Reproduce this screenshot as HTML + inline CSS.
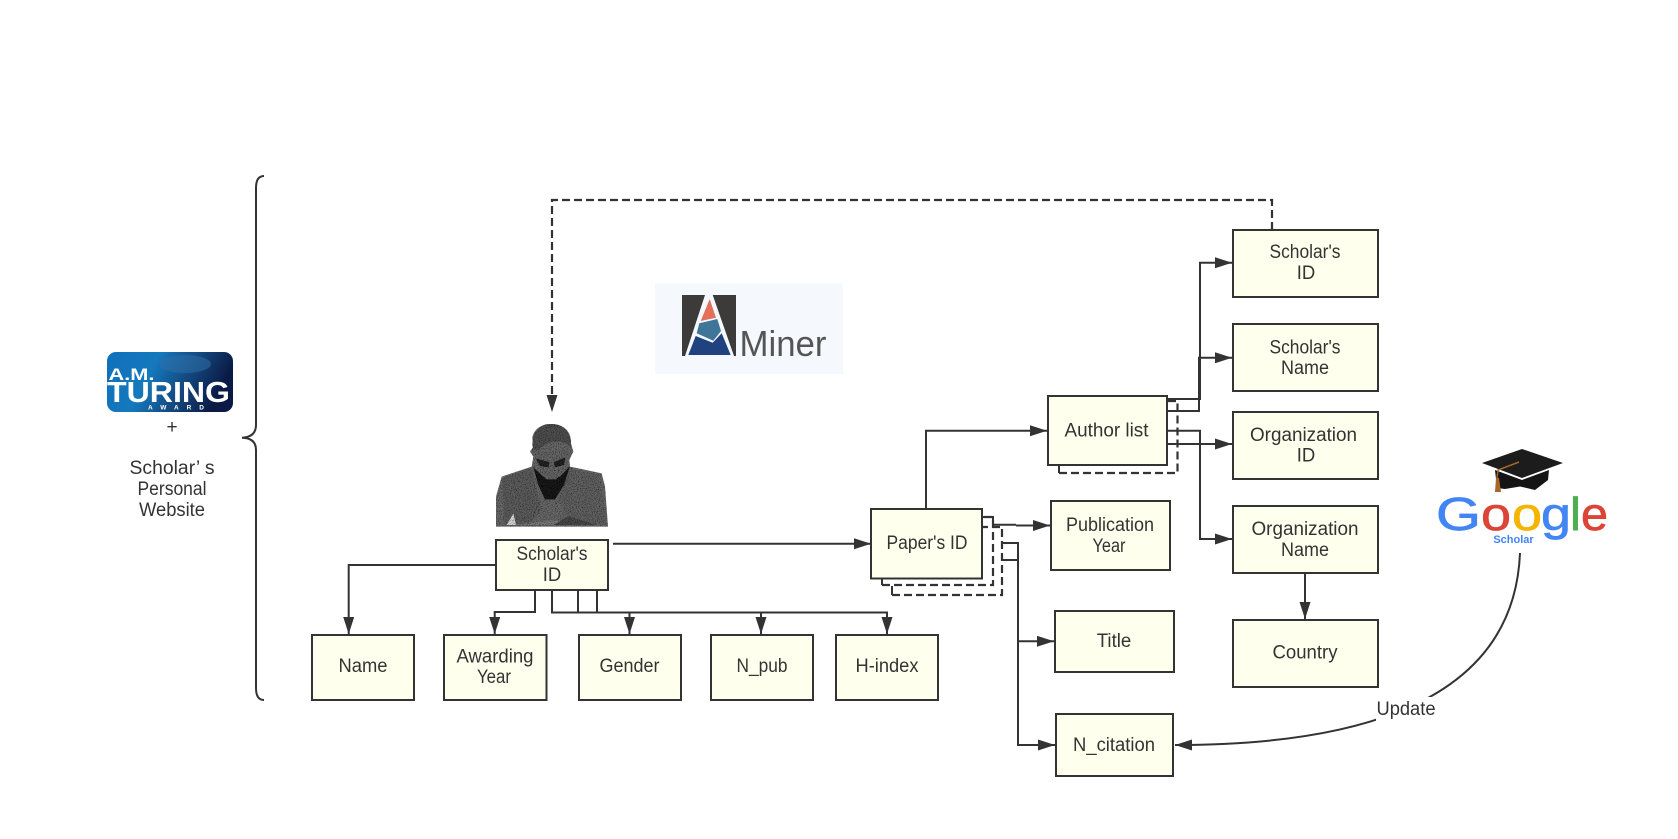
<!DOCTYPE html>
<html>
<head>
<meta charset="utf-8">
<style>
html,body{margin:0;padding:0;background:#fff;width:1678px;height:839px;overflow:hidden}
svg{display:block}
.b{fill:#ffffee;stroke:#333;stroke-width:2}
.c{fill:none;stroke:#333;stroke-width:2}
.a{fill:none;stroke:#333;stroke-width:2;marker-end:url(#ah)}
.d{fill:none;stroke:#333;stroke-width:2.2;stroke-dasharray:8 4}
text{font-family:"Liberation Sans","Noto Sans CJK SC",sans-serif;font-size:19px;fill:#333;text-anchor:middle}
.g{font-size:46px;stroke-width:.7;text-anchor:start}
</style>
</head>
<body>
<svg width="1678" height="839" viewBox="0 0 1678 839" xmlns="http://www.w3.org/2000/svg">
<defs>
<marker id="ah" markerUnits="userSpaceOnUse" markerWidth="18" markerHeight="12" refX="17" refY="5.500" orient="auto">
<path d="M0 0L17 5.500L0 11Z" fill="#333"/>
</marker>
<linearGradient id="tg" x1="0" y1="0" x2="1" y2="0.25">
<stop offset="0" stop-color="#0f70bb"/><stop offset=".4" stop-color="#1579bd"/><stop offset=".7" stop-color="#14487f"/><stop offset="1" stop-color="#0a1a45"/>
</linearGradient>
<filter id="nz" x="0" y="0" width="100%" height="100%">
<feTurbulence type="fractalNoise" baseFrequency=".35" numOctaves="2" seed="4" result="n"/>
<feColorMatrix in="n" type="matrix" values="0 0 0 0 0 0 0 0 0 0 0 0 0 0 0 0 0 0 2.4 -1" result="m"/>
<feComposite in="m" in2="SourceAlpha" operator="in" result="k"/>
<feMerge><feMergeNode in="SourceGraphic"/><feMergeNode in="k"/></feMerge>
</filter>
<filter id="sf"><feGaussianBlur stdDeviation="3"/></filter>
</defs>

<!-- brace -->
<path class="c" d="M264 176Q256 176 256 188L256 425Q256 437 242 437.700Q256 438 256 450L256 688Q256 700 264 700"/>

<!-- Turing logo -->
<rect x="107" y="352" width="126" height="60" rx="9" fill="url(#tg)"/>
<ellipse cx="185" cy="364" rx="26" ry="9" fill="#2f6fa8" opacity=".55"/>
<text x="131.500" y="380" style="font-size:16.500px;font-weight:bold;fill:#fff" textLength="46" lengthAdjust="spacingAndGlyphs">A.M.</text>
<text x="168.500" y="402" style="font-size:28.500px;font-weight:bold;fill:#fff" textLength="123" lengthAdjust="spacingAndGlyphs">TURING</text>
<text x="176" y="409.500" style="font-size:6.500px;font-weight:bold;fill:#fff" textLength="56">AWARD</text>

<text x="172" y="433">+</text>
<text x="172" y="474" textLength="85" lengthAdjust="spacingAndGlyphs">Scholar’ s</text>
<text x="172" y="495" textLength="69" lengthAdjust="spacingAndGlyphs">Personal</text>
<text x="172" y="516" textLength="66" lengthAdjust="spacingAndGlyphs">Website</text>

<!-- AMiner logo -->
<rect x="655" y="283" width="188" height="91" fill="#f5f9fe"/>
<polygon points="682,295 705,295 685,356 682,356" fill="#3d3a3a"/>
<polygon points="712.700,295 736,295 736,356 734,356" fill="#3d3a3a"/>
<polygon points="709.700,299 716,317.700 700.700,321" fill="#e2705a"/>
<polygon points="699.300,323.300 717.300,319 721,331 713.300,340.700 696.700,333.300" fill="#3f7598"/>
<polygon points="688.300,355 695.700,336 712.700,342.700 721.700,333.300 730.700,355" fill="#20437f"/>
<text x="783" y="356" style="font-size:36px;fill:#555" textLength="87" lengthAdjust="spacingAndGlyphs">Miner</text>

<!-- statue -->
<g transform="translate(480 410) scale(.33333)" filter="url(#nz)">
<path d="M48 350L48 260L65 200L155 170L160 140L150 125L160 110L157 85C160 55 190 40 215 42C250 42 275 65 273 100L280 125L268 150L270 170L365 190L375 230L384 350Z" fill="#6a6a6a"/>
<path d="M65 205L155 175L185 300L150 340L75 345Z" fill="#5f5f5f"/>
<path d="M270 175L360 195L378 345L270 330L235 270Z" fill="#646464"/>
<path d="M160 172L190 200L240 200L270 168L252 225L225 268L195 268L175 225Z" fill="#1b1b1b"/>
<path d="M162 115C175 125 250 118 268 118L266 150L250 185L228 208H200L180 190L166 150Z" fill="#686868"/>
<path d="M157 105C160 55 190 40 215 42C250 42 275 65 273 110C255 92 215 88 190 108C178 118 165 125 160 118Z" fill="#515151"/>
<path d="M168 146L208 156L206 172L180 168Z" fill="#252525"/>
<path d="M222 156L256 142L252 165L224 172Z" fill="#252525"/>
<path d="M80 345L100 310L108 345Z" fill="#ddd"/>
<path d="M100 345L220 330L330 345Z" fill="#7c7c7c"/>
<path d="M220 345L265 318L350 345Z" fill="#4c4c4c"/>
</g>

<!-- Google Scholar logo -->
<polygon points="1482,463 1522,449 1563,463 1522,478" fill="#1c1c1c"/>
<path d="M1495 470L1522 480L1549 470L1548 480L1535 490L1520 486.500L1505 489L1497 488Z" fill="#151515"/>
<path d="M1519 462L1498 470L1497 478" fill="none" stroke="#a5682a" stroke-width="1.500"/>
<polygon points="1496,478 1499,478 1501,492 1495,492" fill="#a5682a"/>
<text class="g" x="1436" y="530" style="fill:#4285f4" stroke="#4285f4" textLength="45" lengthAdjust="spacingAndGlyphs">G</text>
<text class="g" x="1481" y="530" style="fill:#db4437" stroke="#db4437" textLength="30" lengthAdjust="spacingAndGlyphs">o</text>
<text class="g" x="1512" y="530" style="fill:#f4b400" stroke="#f4b400" textLength="30" lengthAdjust="spacingAndGlyphs">o</text>
<text class="g" x="1541" y="530" style="fill:#4285f4" stroke="#4285f4" textLength="30" lengthAdjust="spacingAndGlyphs">g</text>
<text class="g" x="1571" y="530" style="fill:#4caf50;font-weight:bold" stroke="#4caf50" textLength="9" lengthAdjust="spacingAndGlyphs">l</text>
<text class="g" x="1581" y="530" style="fill:#db4437" stroke="#db4437" textLength="27" lengthAdjust="spacingAndGlyphs">e</text>
<text x="1513.500" y="543" style="font-size:11px;font-weight:bold;fill:#4285f4">Scholar</text>

<!-- stacked dashed back boxes -->
<path class="d" d="M892 595H1002V527H982"/>
<path class="d" d="M882 585H993V517H982"/>
<path class="c" d="M892 586V595M882 579V585M982 517H990"/>
<path class="d" d="M1059 473H1177.500V401H1167"/>
<path class="c" d="M1059 466V473M1167 401H1175"/>

<!-- dashed connector -->
<path class="d" d="M1272 230V200H552V396"/>
<polygon points="546.500,395 557.500,395 552,412" fill="#333"/>

<!-- connectors left -->
<path class="a" d="M613 543.700H871"/>
<path class="a" d="M496 565H348.700V634"/>
<path class="a" d="M535 590V612H494.700V634"/>
<path class="c" d="M552 590V612.500H629.500"/>
<path class="c" d="M578 590V612.500M597 590V612.500"/>
<path class="a" d="M578 612.500H629.500V634"/>
<path class="a" d="M597 612.500H761V634"/>
<path class="a" d="M597 612.500H887V634"/>

<!-- connectors paper -->
<path class="a" d="M926 509V430.700H1047"/>
<path class="c" d="M993 516V524.700H1016"/>
<path class="a" d="M1016 525.500H1050"/>
<path class="a" d="M1002 543H1018V641.300H1054"/>
<path class="a" d="M1002 560H1018V745H1055"/>

<!-- connectors author -->
<path class="a" d="M1167 399H1200V262.700H1232"/>
<path class="a" d="M1167 411H1199V357.700H1232"/>
<path class="a" d="M1167 444H1232"/>
<path class="a" d="M1167 430.700H1200V539H1232"/>
<path class="a" d="M1305 573V619"/>

<!-- curve -->
<path class="a" d="M1520 553Q1512 745 1175 745"/>
<rect x="1376" y="697" width="61" height="24" fill="#fff"/>
<text x="1406" y="715" textLength="59" lengthAdjust="spacingAndGlyphs">Update</text>

<!-- boxes -->
<rect class="b" x="496" y="540" width="112" height="50"/>
<rect class="b" x="312" y="635" width="102" height="65"/>
<rect class="b" x="444" y="635" width="102.500" height="65"/>
<rect class="b" x="579" y="635" width="102" height="65"/>
<rect class="b" x="711" y="635" width="102" height="65"/>
<rect class="b" x="836" y="635" width="102" height="65"/>
<rect class="b" x="871" y="509" width="111" height="69.500"/>
<rect class="b" x="1048" y="396" width="119" height="69"/>
<rect class="b" x="1051" y="501" width="119" height="69"/>
<rect class="b" x="1055" y="611" width="119" height="61"/>
<rect class="b" x="1056" y="714" width="117" height="62"/>
<rect class="b" x="1233" y="230" width="145" height="67"/>
<rect class="b" x="1233" y="324" width="145" height="67"/>
<rect class="b" x="1233" y="412" width="145" height="67"/>
<rect class="b" x="1233" y="506" width="145" height="67"/>
<rect class="b" x="1233" y="620" width="145" height="67"/>

<!-- labels -->
<text x="552" y="560" textLength="71" lengthAdjust="spacingAndGlyphs">Scholar's</text>
<text x="552" y="581" textLength="18.500" lengthAdjust="spacingAndGlyphs">ID</text>
<text x="363" y="672" textLength="49" lengthAdjust="spacingAndGlyphs">Name</text>
<text x="495" y="662.500" textLength="77" lengthAdjust="spacingAndGlyphs">Awarding</text>
<text x="494" y="683" textLength="34" lengthAdjust="spacingAndGlyphs">Year</text>
<text x="629.500" y="672" textLength="60" lengthAdjust="spacingAndGlyphs">Gender</text>
<text x="762" y="672" textLength="51" lengthAdjust="spacingAndGlyphs">N_pub</text>
<text x="887" y="672" textLength="63" lengthAdjust="spacingAndGlyphs">H-index</text>
<text x="927" y="549" textLength="81" lengthAdjust="spacingAndGlyphs">Paper's ID</text>
<text x="1106.500" y="436.500" textLength="84" lengthAdjust="spacingAndGlyphs">Author list</text>
<text x="1110" y="531" textLength="88" lengthAdjust="spacingAndGlyphs">Publication</text>
<text x="1109" y="552" textLength="33" lengthAdjust="spacingAndGlyphs">Year</text>
<text x="1114" y="647" textLength="34.500" lengthAdjust="spacingAndGlyphs">Title</text>
<text x="1114" y="751" textLength="82" lengthAdjust="spacingAndGlyphs">N_citation</text>
<text x="1305" y="258" textLength="71" lengthAdjust="spacingAndGlyphs">Scholar's</text>
<text x="1306" y="279" textLength="18.500" lengthAdjust="spacingAndGlyphs">ID</text>
<text x="1305" y="353.500" textLength="71" lengthAdjust="spacingAndGlyphs">Scholar's</text>
<text x="1305" y="374" textLength="48" lengthAdjust="spacingAndGlyphs">Name</text>
<text x="1303.500" y="441" textLength="107" lengthAdjust="spacingAndGlyphs">Organization</text>
<text x="1306" y="461.500" textLength="18.500" lengthAdjust="spacingAndGlyphs">ID</text>
<text x="1305" y="535" textLength="107" lengthAdjust="spacingAndGlyphs">Organization</text>
<text x="1305" y="556" textLength="48" lengthAdjust="spacingAndGlyphs">Name</text>
<text x="1305" y="658.500" textLength="65" lengthAdjust="spacingAndGlyphs">Country</text>
</svg>
</body>
</html>
